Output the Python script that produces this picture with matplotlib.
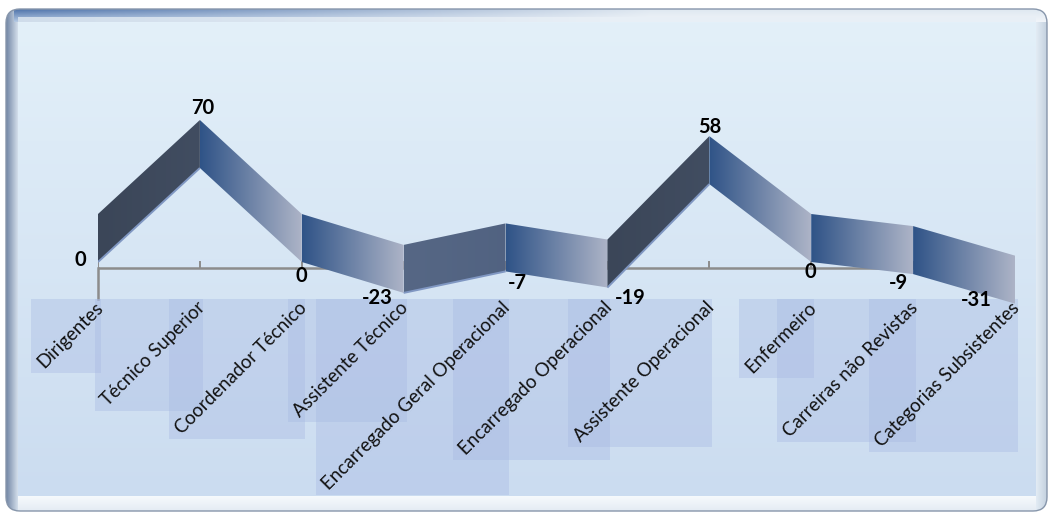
import numpy as np
import matplotlib
matplotlib.use("Agg")
import matplotlib.pyplot as plt
from matplotlib.patches import Polygon, Rectangle, FancyBboxPatch
from matplotlib.colors import LinearSegmentedColormap, to_rgb
from matplotlib import transforms as mtransforms

plt.rcParams['font.family'] = ['Lato', 'DejaVu Sans']

# ---- data -------------------------------------------------------------
categories = [
    "Dirigentes", "Técnico Superior", "Coordenador Técnico", "Assistente Técnico",
    "Encarregado Geral Operacional", "Encarregado Operacional",
    "Assistente Operacional", "Enfermeiro", "Carreiras não Revistas",
    "Categorias Subsistentes",
]
values = [0, 70, 0, -23, -7, -19, 58, 0, -9, -31]

# label offsets (pixels, x right / y up) relative to the front edge of each point
label_offsets = [(-18, 2), (3, 60), (0, -14), (-26, -5), (12, -12),
                 (23, -10), (0, 57), (-1, -10), (-15, -9), (-39, 4)]

W, H, DPI = 1052, 515, 100
fig = plt.figure(figsize=(W / DPI, H / DPI), dpi=DPI)
fig.patch.set_facecolor("white")

# ---- bevelled background panel ----------------------------------------
bg = fig.add_axes([0, 0, 1, 1], zorder=-1)
bg.set_xlim(0, W)
bg.set_ylim(H, 0)
bg.axis("off")

yy, xx = np.mgrid[0:H, 0:W].astype(float)
img = np.ones((H, W, 3))


def mix(c0, c1, t):
    c0 = np.array(to_rgb(c0))
    c1 = np.array(to_rgb(c1))
    t = np.clip(t, 0, 1)[..., None]
    return c0 * (1 - t) + c1 * t


# inner face
t = (yy - 22) / (495 - 22)
img[:] = mix("#e3f0f9", "#cbdcf0", t)

# left strip
m = xx < 18
img[m] = mix("#7488a6", "#d8e3ef", (xx[m] - 6) / 12)
# right strip
m = xx > 1035
img[m] = mix("#e4edf6", "#c2cfdd", (xx[m] - 1035) / 12)
# bottom strip
m = (yy > 495) & (xx >= 18) & (xx <= 1035)
img[m] = mix("#f7fafd", "#e3ebf3", (yy[m] - 495) / 16)
# top strip: dark blue fading to the right
m = (yy < 22) & (xx >= 14)
tx = np.clip(xx[m] / 650, 0, 1)
ty = (yy[m] - 9) / 13
dark = mix("#4d72aa", "#dfe8f1", tx)
light = mix("#b9cde6", "#f2f6fa", tx)
img[m] = dark * (1 - ty[:, None]) + light * ty[:, None]
m = (yy >= 17) & (yy < 22) & (xx >= 18) & (xx <= 1035)
img[m] = mix("#cfdcea", "#e8eff6", np.clip(xx[m] / 600, 0, 1))

im = bg.imshow(img, extent=(0, W, H, 0), interpolation="bilinear", zorder=0)
frame = FancyBboxPatch((6, 9), 1041, 502,
                       boxstyle="round,pad=0,rounding_size=14",
                       transform=bg.transData, facecolor="none",
                       edgecolor="#8796ab", linewidth=1.0, zorder=1)
bg.add_patch(frame)
im.set_clip_path(frame)

# ---- chart axes ---------------------------------------------------------
x0_px, x9_px = 98, 1015
zero_px, px_per_unit = 262, 1.343
ymin, ymax = -60, 130
top_px = zero_px - px_per_unit * ymax
bot_px = zero_px - px_per_unit * ymin
ax = fig.add_axes([x0_px / W, 1 - bot_px / H,
                   (x9_px - x0_px) / W, (bot_px - top_px) / H])
ax.patch.set_alpha(0)
ax.axis("off")

depth = 48 / px_per_unit   # height of the ribbon in value units
n = len(values)
xs = np.arange(n)

px_to_pt = 72 / DPI

# category axis line sits a few pixels below the zero level
axis_tr = mtransforms.offset_copy(ax.transData, fig=fig, x=0, y=-6 * px_to_pt,
                                  units="points")
ax.plot([0, n - 1], [0, 0], color="#8c8c8c", lw=1.8, transform=axis_tr,
        zorder=0.5, solid_capstyle="butt")
for i in xs:
    ax.plot([i, i], [0, 6 / px_per_unit], color="#8c8c8c", lw=1.4,
            transform=axis_tr, zorder=0.5)
ax.plot([0, 0], [0, -31 / px_per_unit], color="#8c8c8c", lw=1.8,
        transform=axis_tr, zorder=0.5, clip_on=False)

# ribbon segments
grad = np.linspace(0, 1, 256).reshape(1, -1)
for i in range(n - 1):
    v0, v1 = values[i], values[i + 1]
    poly = Polygon([(i, v0), (i + 1, v1), (i + 1, v1 + depth), (i, v0 + depth)],
                   closed=True, facecolor="none", edgecolor="none")
    ax.add_patch(poly)
    slope = v1 - v0
    if slope > 0:
        tt = min(1.0, slope / 70)
        c_left = tuple(mix("#5e7192", "#3b4658", np.array(tt)))
        c_right = tuple(mix("#56698b", "#414d61", np.array(tt)))
    else:
        c_left, c_right = "#2f5387", "#adb4c7"
    cmap = LinearSegmentedColormap.from_list(f"seg{i}", [c_left, c_right])
    seg = ax.imshow(grad, cmap=cmap, aspect="auto", interpolation="bilinear",
                    extent=(i, i + 1, min(v0, v1), max(v0, v1) + depth),
                    zorder=2, clip_on=True)
    seg.set_clip_path(poly)
    if slope > 0:
        ax.plot([i, i + 1], [v0, v1], color="#8097c2", lw=1.4, zorder=2.1,
                solid_capstyle="butt")

# value labels
for i, (v, (dx, dy)) in enumerate(zip(values, label_offsets)):
    ax.annotate(f"{v}", xy=(i, v), xytext=(dx * px_to_pt, dy * px_to_pt),
                textcoords="offset points", ha="center", va="center",
                fontsize=14.5, fontweight="bold", color="black", zorder=5,
                annotation_clip=False)

# category labels
cat_texts = []
for i, name in enumerate(categories):
    t = ax.annotate(name, xy=(i, 0), xytext=(-4 * px_to_pt, -37 * px_to_pt),
                    textcoords="offset points", rotation=45,
                    rotation_mode="anchor", ha="right", va="top",
                    fontsize=13.5, color="#111111", zorder=4,
                    annotation_clip=False)
    cat_texts.append(t)

ax.set_xlim(0, n - 1)
ax.set_ylim(ymin, ymax)

# translucent boxes behind the category labels
fig.canvas.draw()
renderer = fig.canvas.get_renderer()
for t in cat_texts:
    bb = t.get_window_extent(renderer)
    ax.add_patch(Rectangle((bb.x0 - 3, bb.y0 - 2), bb.width - 2, bb.height + 2,
                           transform=mtransforms.IdentityTransform(),
                           facecolor="#a7b9e3", alpha=0.38, edgecolor="none",
                           zorder=1, clip_on=False))

fig.savefig("out.png", dpi=DPI)
